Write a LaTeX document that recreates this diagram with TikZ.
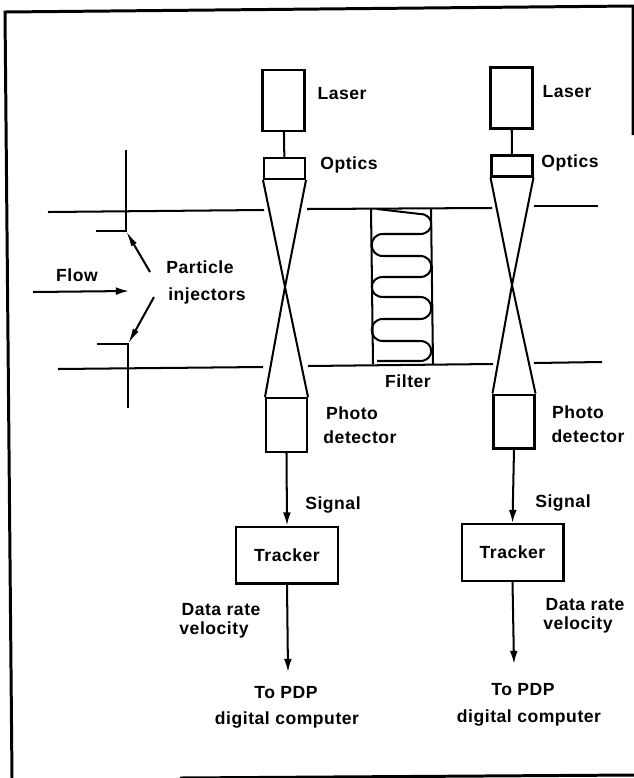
\documentclass[tikz,border=0pt]{standalone}
\usepackage{fontspec}
\setmainfont[LetterSpace=3]{Liberation Sans}
\usetikzlibrary{arrows.meta}
\tikzset{
    every node/.style={font=\bfseries\fontsize{10}{12}\selectfont},
    box/.style={draw, inner sep=0pt},
    laserbox/.style={box, minimum width=0.84cm, minimum height=1.22cm},
    opticsbox/.style={box, minimum width=0.82cm, minimum height=0.42cm},
    detectorbox/.style={box, minimum width=0.82cm, minimum height=1.08cm},
    trackerbox/.style={box, minimum width=2.04cm, minimum height=1.14cm},
    label/.style={inner sep=0pt, align=center},
    sig/.style={-{Latex[length=7.5pt,width=4.5pt]}},
    lead/.style={-{Latex[length=9pt,width=3.6pt]}},
}
\begin{document}
\begin{tikzpicture}[x=0.02cm, y=-0.02cm, line width=1.15pt]
    \useasboundingbox (0,0) rectangle (634,778);
    % outer frame
    \draw[line width=1.7pt] (180,778) -- (634,775);
    \draw[line width=1.7pt] (12,778) -- (5,12) -- (633,6) -- (633,135);

    % first column
    \node[laserbox] (laserA) at (283.5,100.5) {};
    \node[opticsbox] (opticsA) at (284.5,168.5) {};
    \node[detectorbox] (detectorA) at (286.5,425) {};
    \node[trackerbox] (trackerA) at (287,555) {};
    \coordinate (crossA) at (285,287);
    \coordinate (pdpA) at (288,672);
    \draw (laserA) -- (opticsA);
    \draw (opticsA.south west) -- (crossA) -- (detectorA.north east);
    \draw (opticsA.south east) -- (crossA) -- (detectorA.north west);
    \draw[sig] (detectorA.south) -- (trackerA.north);
    \draw[sig] (trackerA.south) -- (pdpA);

    % second column
    \node[laserbox] (laserB) at (511.5,98) {};
    \node[opticsbox] (opticsB) at (512,166) {};
    \node[detectorbox] (detectorB) at (514,421.5) {};
    \node[trackerbox] (trackerB) at (512.5,552.5) {};
    \coordinate (crossB) at (512,285);
    \coordinate (pdpB) at (514,664);
    \draw (laserB) -- (opticsB);
    \draw (opticsB.south west) -- (crossB) -- (detectorB.north east);
    \draw (opticsB.south east) -- (crossB) -- (detectorB.north west);
    \draw[sig] (detectorB.south) -- (trackerB.north);
    \draw[sig] (trackerB.south) -- (pdpB);

    % duct walls
    \draw (48,212) -- (264,210);
    \draw (307,209) -- (492,208);
    \draw (534,206) -- (598,206);
    \draw (58,369) -- (263,367);
    \draw (308,366) -- (493,364);
    \draw (534,363) -- (602,362);

    % filter
    \draw (371,208) -- (373,364);
    \draw (431,208) -- (433,364);
    \draw (377,209) -- (420,214) .. controls (435,214) and (435,234) .. (420,234)
        -- (383,234) .. controls (368,234) and (368,256) .. (383,256)
        -- (420,256) .. controls (435,256) and (435,277) .. (420,277)
        -- (383,277) .. controls (368,277) and (368,297) .. (383,297)
        -- (420,297) .. controls (435,297) and (435,319) .. (420,319)
        -- (383,319) .. controls (368,319) and (368,341) .. (383,341)
        -- (420,341) .. controls (435,341) and (435,361) .. (420,361) -- (377,361);

    % injectors
    \coordinate (tipU) at (126,231);
    \coordinate (tipL) at (128,344);
    \coordinate (freeU) at (150,272);
    \coordinate (freeL) at (154,297);
    \draw (126,150) -- (tipU) -- (96,231);
    \draw (128,408) -- (tipL) -- (97,344);
    \draw[lead] (freeU) -- (tipU);
    \draw[lead] (freeL) -- (tipL);

    % flow
    \coordinate (flowS) at (33,292);
    \coordinate (flowE) at (129,291);
    \draw[sig] (flowS) -- (flowE);

    % labels
    \node[label] (flowL) at (77,275) {Flow};
    \node[label] (particleL) at (200,267) {Particle};
    \node[label] (injectorsL) at (207,296) {injectors};
    \node[label] (filterL) at (408,381) {Filter};
    \node[label] (laserLA) at (342,94) {Laser};
    \node[label] (laserLB) at (567,92) {Laser};
    \node[label] (opticsLA) at (349,165) {Optics};
    \node[label] (opticsLB) at (570,163) {Optics};
    \node[label] (photoLA) at (352,413) {Photo};
    \node[label] (photoLB) at (578,412) {Photo};
    \node[label] (detLA) at (360,437) {detector};
    \node[label] (detLB) at (588,436) {detector};
    \node[label] (signalLA) at (333,505) {Signal};
    \node[label] (signalLB) at (563,503) {Signal};
    \node[label] at (trackerA) (trackLA) {Tracker};
    \node[label] at (trackerB) (trackLB) {Tracker};
    \node[label] (rateLA) at (221,610) {Data rate};
    \node[label] (velLA) at (214,630) {velocity};
    \node[label] (rateLB) at (585,605) {Data rate};
    \node[label] (velLB) at (578,625) {velocity};
    \node[label] (toLA) at (286,693) {To PDP};
    \node[label] (toLB) at (523,690) {To PDP};
    \node[label] (compLA) at (287,720) {digital computer};
    \node[label] (compLB) at (529,718) {digital computer};
\end{tikzpicture}
\end{document}
